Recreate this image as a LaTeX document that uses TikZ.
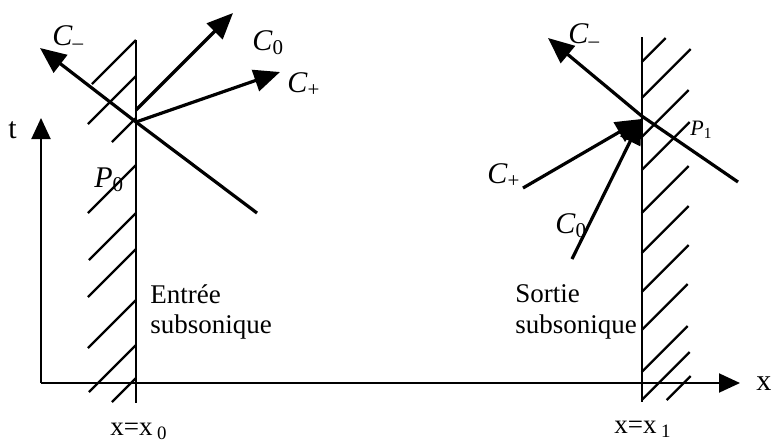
\documentclass[tikz,border=0pt]{standalone}
\usepackage{fontspec}
\setmainfont{Liberation Serif}
\usetikzlibrary{arrows.meta}
\tikzset{
  axe/.style={line width=1pt,-{Triangle[length=10.5pt,width=9.5pt]}},
  paroi/.style={line width=1pt},
  hachure/.style={line width=1.1pt},
  carac/.style={line width=1.6pt,-{Triangle[length=13pt,width=11pt]}},
  etiq/.style={inner sep=0pt,anchor=base west,font=\fontsize{15}{18}\selectfont},
  texte/.style={inner sep=0pt,anchor=base west,font=\fontsize{13.5}{15}\selectfont},
}
\begin{document}
\begin{tikzpicture}[x=0.5pt,y=-0.5pt]
    \useasboundingbox (0,0) rectangle (772,441);
    % axes
    \coordinate (O) at (41,383);
    \coordinate (tmax) at (41,118);
    \coordinate (xmax) at (740,383);
    \draw[axe] (O) -- (tmax);
    \draw[axe] (O) -- (xmax);
    \node[etiq] (tlab) at (8,138) {t};
    \node[etiq] (xlab) at (756,390) {x};
    % entree x=x0
    \coordinate (E0) at (136,40);
    \coordinate (E1) at (136,403);
    \draw[paroi] (E0) -- (E1);
    \foreach \y/\l in {40/44,76/48,118/24,165/48,213/47,249/48,300/48,345/47,378/24}
        \draw[hachure] (136,\y) -- ++(-\l,\l);
    \coordinate (P0) at (136,122);
    \coordinate (Cm0a) at (257,213);
    \coordinate (Cm0b) at (40,48);
    \coordinate (Cz0a) at (136,110);
    \coordinate (Cz0b) at (233,13);
    \coordinate (Cp0b) at (280,72);
    \draw[carac] (Cm0a) -- (P0) -- (Cm0b);
    \draw[carac] (Cz0a) -- (Cz0b);
    \draw[carac] (P0) -- (Cp0b);
    \node[etiq] (cm0lab) at (52,45) {\textit{C}\textsubscript{--}};
    \node[etiq] (cz0lab) at (252,50) {\textit{C}\textsubscript{0}};
    \node[etiq] (cp0lab) at (287,92) {\textit{C}\textsubscript{+}};
    \node[etiq] (p0lab) at (94,187) {\textit{P}\textsubscript{0}};
    \node[texte] (ent1) at (150,303) {Entrée};
    \node[texte] (ent2) at (150,333) {subsonique};
    \node[texte] (x0lab) at (110,435) {x=x\,\textsubscript{0}};
    % sortie x=x1
    \coordinate (S0) at (641.7,37);
    \coordinate (S1) at (641.7,402);
    \draw[paroi] (S0) -- (S1);
    \foreach \y/\l in {62/24,98/49,137/47,170/48,213/47,253/47,292/47,330/46,372/46,400/48}
        \draw[hachure] (641.7,\y) -- ++(\l,-\l);
    \draw[hachure] (666.7,400) -- ++(24,-24);
    \coordinate (P1) at (641.7,116);
    \coordinate (Cm1a) at (738,182);
    \coordinate (Cm1b) at (548,38);
    \coordinate (Cp1a) at (523,188);
    \coordinate (Cp1b) at (641.7,119);
    \coordinate (Cz1a) at (572,259);
    \coordinate (Cz1b) at (641.7,118);
    \draw[carac] (Cm1a) -- (P1) -- (Cm1b);
    \draw[carac] (Cp1a) -- (Cp1b);
    \draw[carac] (Cz1a) -- (Cz1b);
    \node[etiq] (cm1lab) at (568,43) {\textit{C}\textsubscript{--}};
    \node[etiq] (cp1lab) at (487,183) {\textit{C}\textsubscript{+}};
    \node[etiq] (cz1lab) at (555,233) {\textit{C}\textsubscript{0}};
    \node[etiq,font=\fontsize{11}{13}\selectfont] (p1lab) at (690,135) {\textit{P}\textsubscript{1}};
    \node[texte] (sor1) at (515,302) {Sortie};
    \node[texte] (sor2) at (515,333) {subsonique};
    \node[texte] (x1lab) at (614,433) {x=x\,\textsubscript{1}};
\end{tikzpicture}
\end{document}
